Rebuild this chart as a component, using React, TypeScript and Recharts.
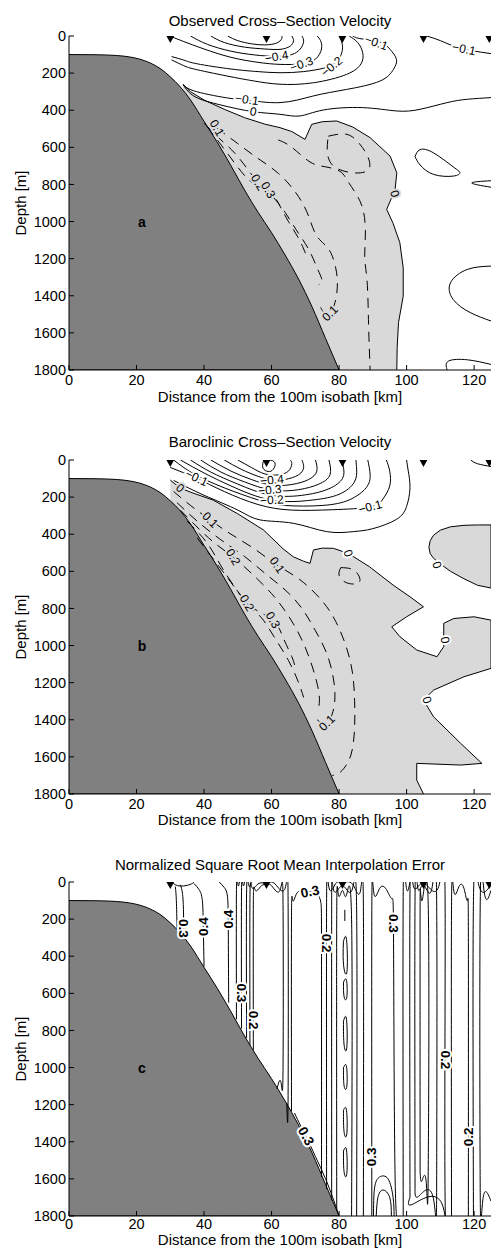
import React from 'react';
import { ComposedChart, XAxis, YAxis, Area, Line, Scatter } from 'recharts';

type Pt = [number, number];
type Tri = [number, number, number];
type Lab = [number, number, string, number];

// axes
const X_TICKS = [0, 20, 40, 60, 80, 100, 120];
const DEPTH_TICKS = [0, 200, 400, 600, 800, 1000, 1200, 1400, 1600, 1800];
const STATIONS = [30, 58.5, 81, 105, 124.5];
const LETTER_AT: Pt = [21.6, 1000];

// seabed (km, m)
const SEABED: Pt[] = [
  [0, 100], [8, 101], [14, 105], [18, 113], [21, 125], [24, 145], [27, 175], [30, 220],
  [33, 275], [36, 345], [40, 460], [44, 575], [48, 700], [52, 830], [56, 950], [60, 1060],
  [64, 1180], [68, 1310], [72, 1460], [76, 1630], [80, 1800],
];

// ---- a: observed ----
const obsZero: Pt[] = [
  [33.8, 262], [36, 300], [40, 345], [46, 395], [52, 440], [58, 475], [62.5, 494], [66, 515],
  [69.9, 557], [71.9, 476], [75, 462], [79.3, 458], [84, 490], [89.2, 548], [95.1, 647],
  [97.1, 737], [96.6, 827], [94.1, 934], [96, 1010], [98, 1114], [99, 1250], [99, 1402],
  [97.6, 1545], [97.2, 1680], [97.1, 1800],
];
const obsNeg: Pt[][] = [
  [[47, 0], [50, 25], [54, 42], [58, 48], [61.5, 38], [63, 15], [63, 0]],
  [[42, 0], [46, 35], [52, 60], [58, 70], [62.5, 72], [65.5, 55], [66.5, 25], [66, 0]],
  [[36, 0], [41, 45], [48, 82], [55, 102], [61.5, 110], [66, 100], [68.5, 70], [69.5, 30], [69, 0]],
  [[30.5, 5], [34, 30], [40, 70], [48, 115], [56, 142], [62.5, 153], [69, 150], [73, 125], [74.8, 70], [74.5, 25], [73.5, 0]],
  [[30.4, 111], [34, 130], [38, 150], [48, 178], [56, 192], [62.5, 198], [69.4, 192], [75.3, 174], [78.5, 150], [80.5, 105], [81, 50], [80, 0]],
  [[30.4, 129], [34, 160], [38, 182], [48, 220], [55, 243], [62.5, 260], [72.4, 252], [82.2, 207], [86.5, 150], [87, 90], [85.5, 35], [83, 0]],
  [[33.8, 262], [37.8, 300], [47.7, 336], [52.7, 345], [62.5, 359], [72.4, 323], [82.2, 288], [92.1, 243], [96.1, 180], [97, 126], [95.1, 72], [92, 32], [86.5, 15], [84, 0]],
  [[33.8, 262], [37.3, 327], [45, 372], [54.6, 408], [62.5, 422], [68.4, 431], [75.3, 399], [87, 386], [97, 404], [104, 395], [112, 359], [118, 341], [125, 332]],
  [[106, 0], [110, 25], [114, 55], [119, 78], [125, 95]],
  [[102.5, 650], [104, 612], [108, 630], [113.8, 705], [115.8, 737], [113.8, 755], [108, 746], [104, 695], [102.5, 650]],
  [[125, 780], [119.3, 792], [125, 815]],
  [[125, 1240], [118, 1258], [113, 1330], [113.8, 1420], [118.8, 1490], [125, 1536]],
  [[112, 1800], [112.4, 1752], [118, 1745], [125, 1770]],
];
const obsPos: Pt[][] = [
  [[76.8, 540], [82.3, 530], [86, 580], [88.5, 650], [88.7, 720], [84, 737], [78.3, 700], [76.5, 620], [76.8, 540]],
  [[62, 560], [66, 600], [71.4, 679], [76, 705], [80.3, 730], [82.5, 780], [85, 850], [87, 930], [87.8, 1050], [87.6, 1190], [88.2, 1300], [88.6, 1450], [88.8, 1600], [89.2, 1800]],
  [[43.8, 496], [50, 580], [56, 660], [62, 740], [67, 840], [70.5, 950], [72.9, 1062], [75.5, 1120], [77.6, 1170], [79, 1250], [79.5, 1330], [79, 1420], [77.3, 1494], [75.3, 1485], [74.5, 1460]],
  [[40, 470], [45, 560], [50, 650], [56, 790], [60, 860], [64, 950], [67.5, 1050], [71, 1150], [73.5, 1250], [75, 1320], [74, 1340]],
  [[41, 490], [46, 610], [51, 730], [55, 800], [59, 830], [62, 900], [65, 1000], [68, 1090], [70, 1170], [70.5, 1200]],
];
const obsLabW: Lab[] = [
  [61.5, 112, '−0.4', -10], [68.9, 152, '−0.3', -20], [77.8, 165, '−0.2', -40],
  [52.7, 343, '−0.1', 8], [54.6, 408, '0', 10], [91, 36, '−0.1', 20], [117, 70, '−0.1', 12],
];
const obsLabG: Lab[] = [
  [96.5, 850, '0', 75], [77.3, 1494, '0.1', -45], [56, 790, '0.2', 60], [59, 830, '0.3', 60], [43.8, 496, '0.1', 60],
];

// ---- b: baroclinic ----
const baroZero: Pt[] = [
  [30, 108], [32.9, 151], [37, 180], [42.7, 216], [50, 290], [57.6, 377], [63.5, 480], [66.4, 521],
  [69.4, 545], [71.4, 557], [72.4, 485], [75, 475], [78.3, 476], [82.7, 503], [89, 575], [96, 674],
  [101, 737], [105, 791], [100, 845], [95.6, 899], [98, 952], [103, 1024], [109, 1060], [111, 1006],
  [111, 880], [114, 854], [120, 845], [125, 863], [125, 1123], [117, 1168], [108, 1240], [105, 1294],
  [108, 1384], [116, 1527], [122.3, 1635], [116, 1644], [103, 1635], [103, 1725], [105, 1800],
];
const baroBlob: Tri[] = [
  [106.6, 470, 470], [107, 435, 505], [108, 405, 530], [110, 378, 560], [113, 360, 600],
  [117, 352, 640], [121, 350, 675], [125, 350, 690],
];
const baroNeg: Pt[][] = [
  [[57.5, 10], [59.3, 0], [61, 15], [60.5, 50], [59, 62], [57.5, 45], [57.5, 10]],
  [[50, 0], [54, 40], [58, 75], [62, 80], [65, 60], [66, 20], [65.5, 0]],
  [[46, 0], [51, 50], [56, 88], [60, 108], [64, 105], [68, 80], [69.5, 40], [69, 0]],
  [[42, 0], [48, 60], [54, 105], [60, 135], [66, 132], [71, 105], [73.4, 60], [73, 0]],
  [[39, 0], [45, 65], [52, 118], [60, 162], [68, 160], [74, 130], [77.3, 80], [77, 0]],
  [[36, 0], [42, 65], [50, 130], [60, 190], [70, 188], [77, 155], [81, 100], [81.3, 40], [81, 0]],
  [[33, 0], [40, 70], [48, 140], [60, 216], [72, 216], [80, 185], [84.5, 120], [85.2, 50], [85, 0]],
  [[31, 0], [37, 75], [46, 150], [56, 215], [64, 245], [75, 245], [83, 215], [88, 150], [89.2, 80], [88.5, 0]],
  [[30, 40], [37.8, 99], [46, 170], [56, 240], [66, 270], [78, 268], [89.2, 253], [93, 210], [95, 140], [95, 60], [94, 0]],
  [[31, 110], [40, 190], [50, 270], [56.6, 323], [66.4, 341], [76.3, 386], [84.2, 386], [90, 370], [97, 320], [100, 250], [101, 150], [100.5, 60], [100, 0]],
  [[119, 0], [121, 20], [125, 35]],
];
const baroPos: Pt[][] = [
  [[31, 170], [36, 245], [41.8, 323], [48, 400], [55, 480], [61.6, 566], [68.4, 645], [75, 760], [79, 870], [82, 1000], [84, 1150], [84.6, 1300], [84.6, 1440], [83.5, 1590], [80.5, 1680], [78, 1700]],
  [[32, 230], [38, 330], [45, 430], [52, 520], [58, 610], [64, 700], [69, 800], [73, 920], [76.5, 1050], [78.5, 1200], [78.5, 1330], [76.4, 1417], [73.5, 1400]],
  [[33, 270], [39, 380], [44, 460], [48.6, 523], [54, 610], [60, 720], [65, 840], [69, 970], [72, 1110], [74, 1250], [74, 1330]],
  [[35, 330], [41, 450], [46, 600], [52.7, 771], [57, 850], [61, 960], [65, 1080], [68, 1200], [69.5, 1280]],
  [[38, 420], [43, 540], [48, 660], [54, 790], [60.4, 862], [63.5, 960], [66, 1060], [67, 1120]],
  [[80.5, 580], [84, 590], [86, 630], [85.5, 665], [82, 660], [80, 620], [80.5, 580]],
];
const baroLabW: Lab[] = [
  [37.8, 97, '−0.1', 25], [60.1, 108, '−0.4', -5], [59.5, 162, '−0.3', -5], [60.1, 216, '−0.2', -3],
  [89.2, 253, '−0.1', -15], [82.7, 503, '0', 70], [109, 566, '0', 70], [111.4, 970, '0', 80], [106, 1294, '0', 70],
];
const baroLabG: Lab[] = [
  [32.9, 151, '0', 40], [41.8, 323, '0.1', 45], [61.6, 566, '0.1', 55], [48.6, 523, '0.2', 60],
  [52.7, 771, '0.2', 60], [60.4, 862, '0.3', 60], [76.4, 1417, '0.1', -45],
];

// ---- c: interpolation error ----
const errLines: Pt[][] = [
  [[30.5, 0], [31.5, 15], [33, 22], [35, 18], [36.5, 8], [37, 0]],
  [[31.5, 25], [31.8, 100], [32, 250]],
  [[33, 15], [33.6, 60], [33.9, 150], [34, 300]],
  [[37, 8], [38.5, 40], [39.5, 100], [39.8, 250], [40, 455]],
  [[44.5, 0], [46, 30], [47, 90], [47.2, 300], [47.3, 650]],
  [[49.6, 740], [49.6, 40], [50, 10], [50.5, 0]],
  [[51.1, 790], [51.1, 50], [51.5, 10], [52, 0]],
  [[52.6, 840], [52.6, 60], [53.2, 15], [54, 0]],
  [[53.6, 880], [53.6, 90], [54.2, 30], [56, 10], [58.5, 5], [61, 10], [64, 35], [64.9, 110], [64.9, 1150], [64.5, 1190]],
  [[54.6, 905], [54.6, 120], [55.2, 45], [57, 20], [58.5, 15], [60, 20], [62.5, 45], [63.4, 120], [63.4, 1000], [62.8, 1080], [61.6, 1115]],
  [[65.9, 1235], [65.9, 200], [66.3, 100], [67.5, 60], [69.5, 50], [71.4, 52], [73.5, 65], [74.6, 110], [74.8, 400], [74.8, 1590]],
  [[76.3, 1655], [76.3, 110], [77, 30], [79, 8], [81, 3], [84, 12], [86.3, 50], [87.2, 130], [87.2, 1800]],
  [[77.8, 1715], [77.8, 150], [78.4, 45], [81, 20], [83.8, 45], [85.2, 150], [85.2, 1800]],
  [[79.3, 1770], [79.3, 200], [79.8, 70], [81, 45], [82.2, 70], [83.7, 200], [83.7, 1800]],
  [[81.7, 150], [81.7, 210]],
  [[81.3, 320], [82.2, 310], [82.4, 470], [81.6, 480], [81.2, 400], [81.3, 320]],
  [[81.3, 540], [82.2, 530], [82.3, 620], [81.5, 620], [81.3, 540]],
  [[81.3, 750], [82.2, 740], [82.3, 890], [81.5, 880], [81.3, 750]],
  [[81.3, 1000], [82.2, 995], [82.3, 1100], [81.5, 1100], [81.3, 1000]],
  [[81.3, 1230], [82.2, 1230], [82.3, 1355], [81.5, 1350], [81.3, 1230]],
  [[81.3, 1450], [82.2, 1445], [82.3, 1570], [81.5, 1565], [81.3, 1450]],
  [[89.7, 1800], [89.7, 150], [90.3, 60], [92, 35], [94, 40], [95.6, 90], [96.1, 223], [96.3, 1000], [96.6, 1600], [97, 1800]],
  [[91, 1800], [91.5, 1700], [93, 1660], [95, 1700], [95.5, 1800]],
  [[90.2, 1800], [90.5, 1650], [92, 1590], [94.5, 1600], [96, 1700], [96.3, 1800]],
  [[99, 1800], [99, 50], [99.8, 12], [101, 0]],
  [[101, 1700], [101, 60], [102, 20], [105, 5], [109.5, 25], [111.4, 90], [111.4, 1700], [110.5, 1735], [102, 1735], [101, 1700]],
  [[102.5, 1650], [102.5, 80], [103.3, 30], [105, 15], [107.5, 35], [108.9, 100], [108.9, 1650], [107.8, 1695], [103.5, 1695], [102.5, 1650]],
  [[104, 1560], [104, 130], [104.6, 100], [106.4, 120], [106.4, 1560], [105.8, 1615], [104.5, 1612], [104, 1560]],
  [[113.3, 1800], [113.3, 150], [114, 50], [115.5, 25], [117, 35], [118, 100], [118.3, 300], [118.3, 1800]],
  [[125, 15], [121.5, 25], [119.8, 100], [119.8, 1800]],
  [[125, 45], [123, 55], [121.8, 130], [121.8, 1650], [122.6, 1710], [125, 1720]],
  [[66.8, 1245], [68.5, 1310], [70.2, 1370], [73, 1480], [76, 1600], [78.5, 1720], [79.8, 1790]],
];
const errLab: Lab[] = [
  [33.9, 250, '0.3', 90], [39.8, 241, '0.4', -90], [47.2, 200, '0.4', -90], [51.1, 598, '0.3', 90],
  [54.6, 744, '0.2', 90], [71.4, 52, '0.3', -12], [76.3, 329, '0.2', 90], [96.1, 223, '0.3', 90],
  [89.7, 1481, '0.3', -90], [70.2, 1370, '0.3', 62], [111.4, 959, '0.2', 90], [118.3, 1374, '0.2', -90],
];

const FONT = '"Liberation Sans", Arial, Helvetica, sans-serif';
const SHADE = '#d9d9d9';
const LAND = '#808080';

const rows = (pts: Pt[]) => pts.map(([x, d]) => ({ x, d }));
const toBottom = (pts: Pt[]) => pts.map(([x, d]) => ({ x, r: [d, 1800] }));
const triBand = (t: Tri[]) => t.map(([x, a, b]) => ({ x, r: [a, b] }));
const triLoop = (t: Tri[]): Pt[] => [
  ...t.map(([x, a]) => [x, a] as Pt),
  ...t.slice().reverse().map(([x, , b]) => [x, b] as Pt),
];
const labRows = (l: Lab[]) => l.map(([x, d, t, a]) => ({ x, d, t, a }));

const labelShape = (halo: string, bold: boolean) => (p: any) => {
  const { cx, cy, payload } = p;
  return (
    <text
      x={cx}
      y={cy}
      transform={`rotate(${payload.a} ${cx} ${cy})`}
      textAnchor="middle"
      dominantBaseline="central"
      fontFamily={FONT}
      fontSize={bold ? 13.5 : 12}
      fontWeight={bold ? 700 : 400}
      fill="#000"
      stroke={halo}
      strokeWidth={4}
      paintOrder="stroke"
    >
      {payload.t}
    </text>
  );
};

const triangle = (p: any) => {
  const { cx, cy } = p;
  return <polygon points={`${cx - 5.5},${cy - 3} ${cx + 5.5},${cy - 3} ${cx},${cy + 7}`} fill="#000" />;
};

interface PanelProps {
  title: string;
  titleY: number;
  xLabelY: number;
  tickGap: number;
  letter: string;
  bands: { x: number; r: number[] }[][];
  boundaries: Pt[][];
  solid: Pt[][];
  dashed: Pt[][];
  labW: Lab[];
  labG: Lab[];
  bold?: boolean;
}

const ax = { xAxisId: 'b', yAxisId: 'l' };

const Panel: React.FC<PanelProps> = ({ title, titleY, xLabelY, tickGap, letter, bands, boundaries, solid, dashed, labW, labG, bold }) => (
  <div style={{ position: 'relative', width: 493, height: 424, fontFamily: FONT }}>
    <div style={{ position: 'absolute', left: 69, width: 422, top: titleY - 8, textAlign: 'center', fontSize: 15, lineHeight: '16px' }}>
      {title}
    </div>
    <div
      style={{
        position: 'absolute', left: 21, top: 203, fontSize: 15, lineHeight: '16px', whiteSpace: 'nowrap',
        transform: 'translate(-50%, -50%) rotate(-90deg)',
      }}
    >
      Depth [m]
    </div>
    <div style={{ position: 'absolute', left: 69, width: 422, top: xLabelY - 7, textAlign: 'center', fontSize: 15, lineHeight: '14px' }}>
      Distance from the 100m isobath [km]
    </div>
    <ComposedChart width={493} height={424} margin={{ top: 36, right: 2, bottom: 14, left: 0 }}>
      <XAxis
        xAxisId="b" type="number" dataKey="x" domain={[0, 125]} ticks={X_TICKS} allowDataOverflow
        interval={0} height={40} tickSize={-5} tickMargin={tickGap} stroke="#000"
        tick={{ fill: '#000', fontSize: 14.5, fontFamily: FONT }}
      />
      <XAxis
        xAxisId="t" orientation="top" type="number" dataKey="x" domain={[0, 125]} ticks={X_TICKS}
        allowDataOverflow interval={0} height={0} tickSize={-5} tick={false} stroke="#000" strokeWidth={1.6}
      />
      <YAxis
        yAxisId="l" type="number" dataKey="d" domain={[0, 1800]} reversed ticks={DEPTH_TICKS} allowDataOverflow
        interval={0} width={69} tickSize={-5} tickMargin={8} stroke="#000"
        tick={{ fill: '#000', fontSize: 14.5, fontFamily: FONT }}
      />
      <YAxis
        yAxisId="r" orientation="right" type="number" dataKey="d" domain={[0, 1800]} reversed ticks={DEPTH_TICKS}
        allowDataOverflow interval={0} width={0} tickSize={-5} tick={false} stroke="#000"
      />
      {bands.map((b, i) => (
        <Area key={`band${i}`} {...ax} data={b} dataKey="r" type="linear" fill={SHADE} fillOpacity={1} stroke="none" isAnimationActive={false} />
      ))}
      <Area {...ax} data={toBottom(SEABED)} dataKey="r" type="monotone" fill={LAND} fillOpacity={1} stroke="#000" strokeWidth={1} isAnimationActive={false} />
      {boundaries.map((pts, i) => (
        <Line key={`bd${i}`} {...ax} data={rows(pts)} dataKey="d" type="linear" stroke="#000" strokeWidth={1} dot={false} isAnimationActive={false} />
      ))}
      {solid.map((pts, i) => (
        <Line key={`s${i}`} {...ax} data={rows(pts)} dataKey="d" type="natural" stroke="#000" strokeWidth={1} dot={false} isAnimationActive={false} />
      ))}
      {dashed.map((pts, i) => (
        <Line key={`p${i}`} {...ax} data={rows(pts)} dataKey="d" type="natural" stroke="#000" strokeWidth={1} strokeDasharray="10 7" dot={false} isAnimationActive={false} />
      ))}
      <Scatter {...ax} data={labRows(labW)} dataKey="d" shape={labelShape('#fff', !!bold)} isAnimationActive={false} />
      <Scatter {...ax} data={labRows(labG)} dataKey="d" shape={labelShape(SHADE, !!bold)} isAnimationActive={false} />
      <Scatter {...ax} data={STATIONS.map((x) => ({ x, d: 0 }))} dataKey="d" shape={triangle} isAnimationActive={false} />
      <Scatter
        {...ax}
        data={[{ x: LETTER_AT[0], d: LETTER_AT[1] }]}
        dataKey="d"
        isAnimationActive={false}
        shape={(p: any) => (
          <text x={p.cx} y={p.cy} textAnchor="middle" dominantBaseline="central" fontFamily={FONT} fontSize={14} fontWeight={700}>
            {letter}
          </text>
        )}
      />
    </ComposedChart>
  </div>
);

export default function App() {
  return (
    <div style={{ position: 'absolute', left: 0, top: 0, width: 493, height: 1248, overflow: 'hidden', background: '#fff' }}>
      <Panel
        title="Observed Cross–Section Velocity"
        titleY={21}
        xLabelY={397}
        tickGap={10}
        letter="a"
        bands={[toBottom(obsZero)]}
        boundaries={[obsZero]}
        solid={obsNeg}
        dashed={obsPos}
        labW={obsLabW}
        labG={obsLabG}
      />
      <Panel
        title="Baroclinic Cross–Section Velocity"
        titleY={18}
        xLabelY={396}
        tickGap={10}
        letter="b"
        bands={[toBottom(baroZero), triBand(baroBlob)]}
        boundaries={[baroZero, triLoop(baroBlob)]}
        solid={baroNeg}
        dashed={baroPos}
        labW={baroLabW}
        labG={baroLabG}
      />
      <div style={{ marginTop: -2 }}>
        <Panel
          title="Normalized Square Root Mean Interpolation Error"
          titleY={19}
          xLabelY={394}
          tickGap={8}
          letter="c"
          bands={[]}
          boundaries={[]}
          solid={errLines}
          dashed={[]}
          labW={errLab}
          labG={[]}
          bold
        />
      </div>
    </div>
  );
}
